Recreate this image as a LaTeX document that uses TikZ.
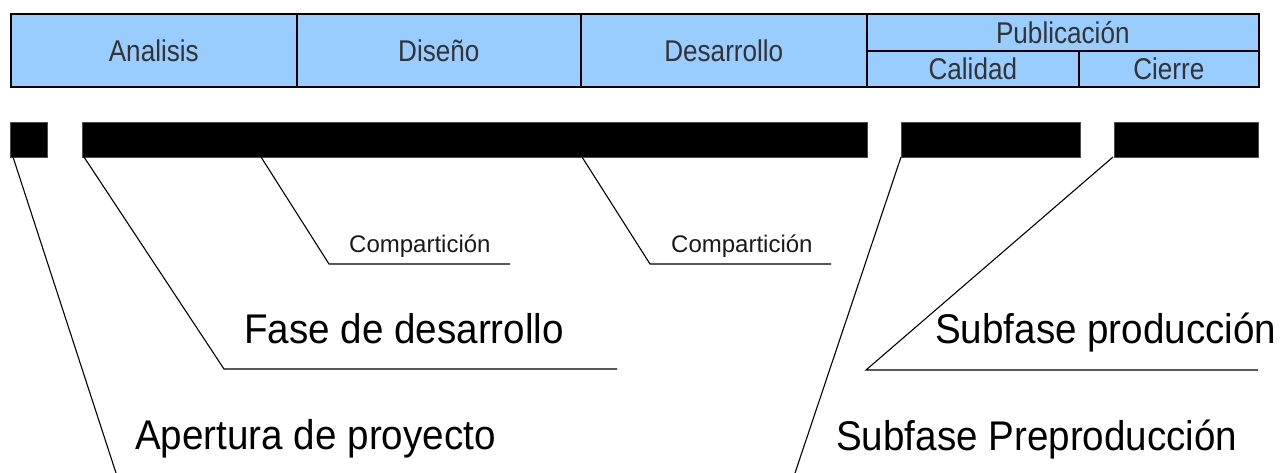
\documentclass[tikz,border=0pt]{standalone}
\usepackage{fontspec}
\setmainfont{Liberation Sans}
\newfontfamily\hdrfont[FakeStretch=0.87]{Liberation Sans}
\newfontfamily\bigfont[FakeStretch=0.93]{Liberation Sans}
\definecolor{hdr}{HTML}{99CCFF}
\definecolor{hdrtext}{HTML}{333333}
\begin{document}
\begin{tikzpicture}[x=1pt,y=-1pt,
  cell/.style={draw=black,line width=1.6pt,fill=hdr,anchor=north west,inner sep=0pt,text=hdrtext,font=\hdrfont\fontsize{30}{34}\selectfont},
  bar/.style={fill=black,draw=gray!60!black,line width=0.6pt,anchor=north west,inner sep=0pt,minimum height=35pt},
  conn/.style={draw=black,line width=1.1pt},
  big/.style={font=\bigfont\fontsize{41.5}{46}\selectfont,anchor=base west,inner sep=0pt,text=black},
  small/.style={font=\fontsize{24}{28}\selectfont,anchor=base west,inner sep=0pt,text=black!90}]
\useasboundingbox (0,0) rectangle (1281,473);
% header
\node[cell,minimum width=286pt,minimum height=73pt] (ana) at (10,13) {Analisis};
\node[cell,minimum width=284pt,minimum height=73pt] (dis) at (296,13) {Diseño};
\node[cell,minimum width=286pt,minimum height=73pt] (des) at (580,13) {Desarrollo};
\node[cell,minimum width=392pt,minimum height=37pt] (pub) at (866,13) {Publicación};
\node[cell,minimum width=212pt,minimum height=36pt] (cal) at (866,50) {Calidad};
\node[cell,minimum width=180pt,minimum height=36pt] (cie) at (1078,50) {Cierre};
% bars
\node[bar,minimum width=37pt] (b1) at (10,122) {};
\node[bar,minimum width=785pt] (b2) at (82,122) {};
\node[bar,minimum width=179pt] (b3) at (901,122) {};
\node[bar,minimum width=144pt] (b4) at (1114,122) {};
% connector points
\coordinate (aps) at (13,157);  \coordinate (ape) at (116,473);
\coordinate (fs) at (84,157);   \coordinate (fb) at (224,369);  \coordinate (fe) at (617,369);
\coordinate (c1s) at (261,157); \coordinate (c1b) at (329,264); \coordinate (c1e) at (510,264);
\coordinate (c2s) at (582,157); \coordinate (c2b) at (650,264); \coordinate (c2e) at (831,264);
\coordinate (pps) at (901,157); \coordinate (ppe) at (795,473);
\coordinate (prs) at (1113,157);\coordinate (prb) at (866,370); \coordinate (pre) at (1258,370);
% connectors
\draw[conn] (aps) -- (ape);
\draw[conn] (fs) -- (fb) -- (fe);
\draw[conn] (c1s) -- (c1b) -- (c1e);
\draw[conn] (c2s) -- (c2b) -- (c2e);
\draw[conn] (pps) -- (ppe);
\draw[conn] (prs) -- (prb) -- (pre);
% labels
\node[big] (tap) at (135,449) {Apertura de proyecto};
\node[big] (tfa) at (244,343) {Fase de desarrollo};
\node[big] (tsp) at (935,343) {Subfase producción};
\node[big] (tpp) at (836,450) {Subfase Preproducción};
\node[small] (tc1) at (349,252) {Compartición};
\node[small] (tc2) at (671,252) {Compartición};
\end{tikzpicture}
\end{document}
